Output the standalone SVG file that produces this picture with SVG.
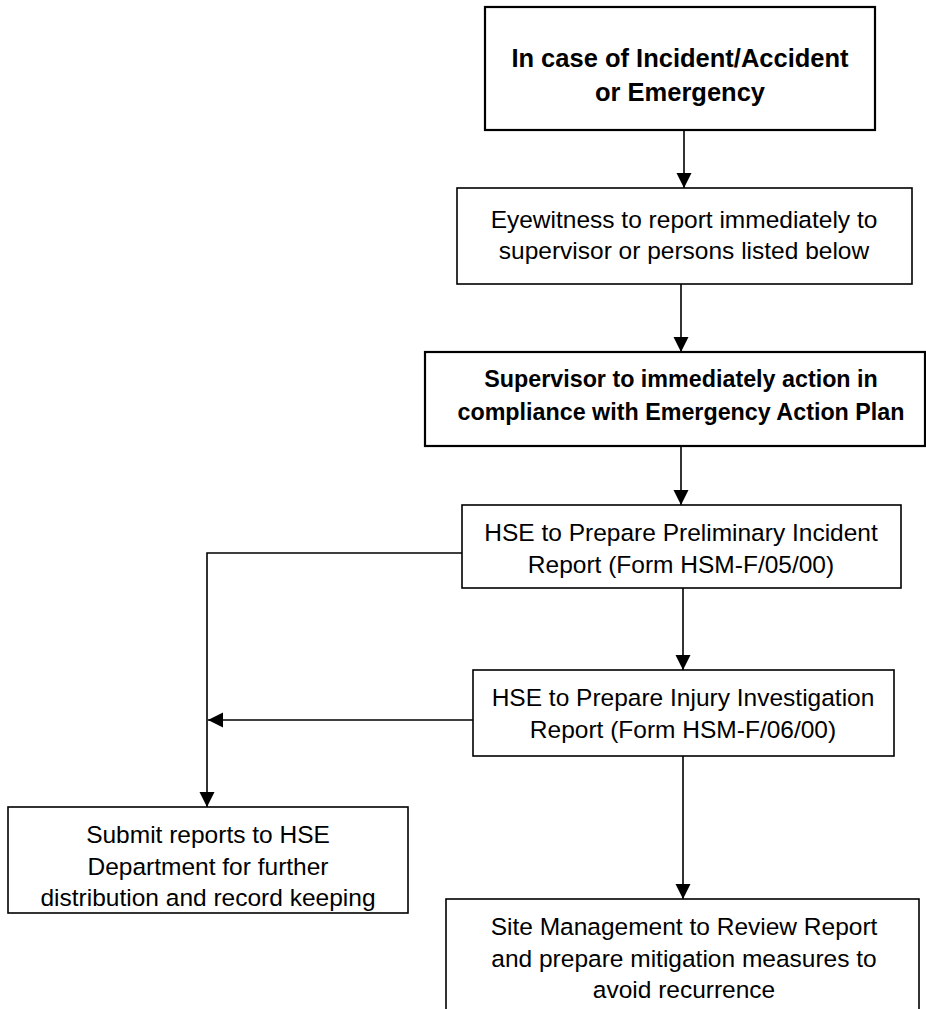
<svg xmlns="http://www.w3.org/2000/svg" width="926" height="1009" viewBox="0 0 926 1009">
<style>
.box{fill:#fff;stroke:#000;stroke-width:1.6}
.thick{stroke-width:2.2}
.t{font-family:"Liberation Sans",Arial,sans-serif;font-size:24.5px;fill:#000;text-anchor:middle}
.b{font-weight:bold}
.c{fill:none;stroke:#000;stroke-width:1.6}
</style>
<defs>
<marker id="ah" markerUnits="userSpaceOnUse" markerWidth="16" markerHeight="16" refX="15" refY="7.5" orient="auto">
<path d="M0,0 L15,7.5 L0,15 z" fill="#000"/>
</marker>
</defs>
<rect width="926" height="1009" fill="#fff"/>
<g id="connectors">
<line class="c" x1="684" y1="130" x2="684" y2="188" marker-end="url(#ah)"/>
<line class="c" x1="681" y1="284" x2="681" y2="352" marker-end="url(#ah)"/>
<line class="c" x1="681" y1="446" x2="681" y2="505" marker-end="url(#ah)"/>
<line class="c" x1="683" y1="588" x2="683" y2="670" marker-end="url(#ah)"/>
<line class="c" x1="683" y1="756" x2="683" y2="899" marker-end="url(#ah)"/>
<polyline class="c" points="462,553 207,553 207,807" marker-end="url(#ah)"/>
<line class="c" x1="473" y1="720" x2="208" y2="720" marker-end="url(#ah)"/>
</g>
<g id="n1">
<rect class="box thick" x="485" y="7" width="390" height="123"/>
<text class="t b" x="680" y="67" style="font-size:25.5px">In case of Incident/Accident</text>
<text class="t b" x="680" y="101" style="font-size:25.5px">or Emergency</text>
</g>
<g id="n2">
<rect class="box" x="457" y="188" width="455" height="96"/>
<text class="t" x="684" y="228">Eyewitness to report immediately to</text>
<text class="t" x="684" y="259">supervisor or persons listed below</text>
</g>
<g id="n3">
<rect class="box thick" x="425" y="352" width="500" height="94"/>
<text class="t b" x="681" y="387" style="font-size:23.3px">Supervisor to immediately action in</text>
<text class="t b" x="681" y="420" style="font-size:23.3px">compliance with Emergency Action Plan</text>
</g>
<g id="n4">
<rect class="box" x="462" y="505" width="439" height="83"/>
<text class="t" x="681" y="541">HSE to Prepare Preliminary Incident</text>
<text class="t" x="681" y="573">Report (Form HSM-F/05/00)</text>
</g>
<g id="n5">
<rect class="box" x="473" y="670" width="421" height="86"/>
<text class="t" x="683" y="706">HSE to Prepare Injury Investigation</text>
<text class="t" x="683" y="738">Report (Form HSM-F/06/00)</text>
</g>
<g id="n6">
<rect class="box" x="8" y="807" width="400" height="106"/>
<text class="t" x="208" y="843">Submit reports to HSE</text>
<text class="t" x="208" y="875">Department for further</text>
<text class="t" x="208" y="906">distribution and record keeping</text>
</g>
<g id="n7">
<rect class="box" x="446" y="899" width="473" height="130"/>
<text class="t" x="684" y="935">Site Management to Review Report</text>
<text class="t" x="684" y="967">and prepare mitigation measures to</text>
<text class="t" x="684" y="998">avoid recurrence</text>
</g>
</svg>
